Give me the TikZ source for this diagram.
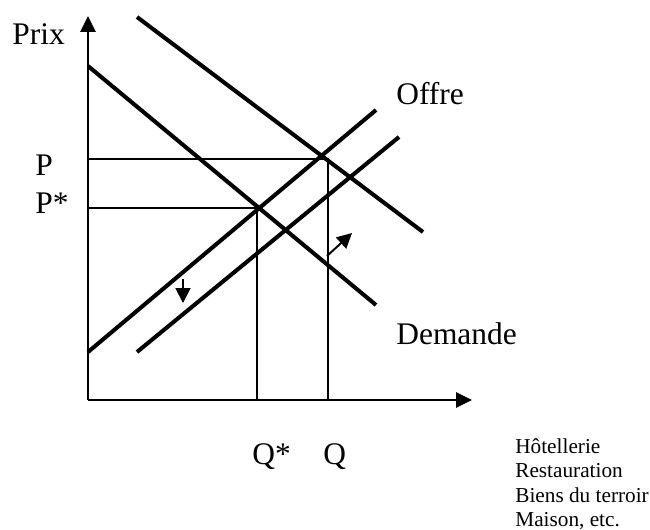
\documentclass[tikz,border=0pt]{standalone}
\usepackage{fontspec}
\setmainfont{Liberation Serif}
\usetikzlibrary{arrows.meta}
\begin{document}
\begin{tikzpicture}[x=0.02cm,y=-0.02cm,
  curve/.style={line width=2.3pt},
  guide/.style={line width=1.1pt},
  axis/.style={line width=1.5pt,-{Triangle[length=9pt,width=8.5pt]}},
  shiftarrow/.style={line width=1.1pt,-{Triangle[length=8.5pt,width=8.5pt]}},
  big/.style={inner sep=0pt,anchor=base west,font=\fontsize{17.9}{21}\selectfont},
  small/.style={inner sep=0pt,anchor=base west,font=\fontsize{12.1}{14}\selectfont}]
\useasboundingbox (0,0) rectangle (650,529);
% coordinates
\coordinate (O) at (88,400);
\coordinate (Ytip) at (88,16);
\coordinate (Xtip) at (472,400);
\coordinate (D1a) at (88,66);
\coordinate (D1b) at (376,305);
\coordinate (D2a) at (137,17);
\coordinate (D2b) at (423,232);
\coordinate (S1a) at (88,352);
\coordinate (S1b) at (376,110);
\coordinate (S2a) at (137,352);
\coordinate (S2b) at (399,137);
\coordinate (Ey) at (88,208);
\coordinate (E) at (257,208);
\coordinate (Eb) at (257,400);
\coordinate (Fy) at (88,159);
\coordinate (F) at (328,159);
\coordinate (Fb) at (328,400);
\coordinate (A1) at (183,279);
\coordinate (A2) at (183,303);
\coordinate (B1) at (327,256);
\coordinate (B2) at (352,233);
% guide lines
\draw[guide] (Fy) -- (F) -- (Fb);
\draw[guide] (Ey) -- (E) -- (Eb);
% curves
\draw[curve] (D1a) -- (D1b);
\draw[curve] (D2a) -- (D2b);
\draw[curve] (S1a) -- (S1b);
\draw[curve] (S2a) -- (S2b);
% axes
\draw[axis] (O) -- (Ytip);
\draw[axis] (O) -- (Xtip);
% shift arrows
\draw[shiftarrow] (A1) -- (A2);
\draw[shiftarrow] (B1) -- (B2);
% labels
\node[big] (prix) at (12,44) {Prix};
\node[big] (lp) at (35,175) {P};
\node[big] (lps) at (35,213) {P*};
\node[big] (offre) at (396,104) {Offre};
\node[big] (dem) at (396,344) {Demande};
\node[big] (lqs) at (252,464) {Q*};
\node[big] (lq) at (323,464) {Q};
\node[small] (h1) at (515,453) {Hôtellerie};
\node[small] (h2) at (515,477) {Restauration};
\node[small] (h3) at (515,502) {Biens du terroir};
\node[small] (h4) at (515,526) {Maison, etc.};
\end{tikzpicture}
\end{document}
